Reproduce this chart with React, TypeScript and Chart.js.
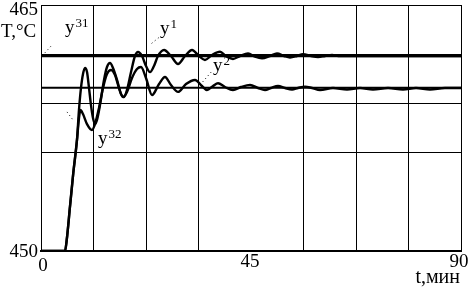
import { useEffect, useRef } from 'react';
import { Chart, registerables } from 'chart.js';

Chart.register(...registerables);

// axis ticks
const X_MIN = 0;
const X_MAX = 90;
const X_STEP = 11.25;
const X_LABELS = [0, 45, 90];
const Y_MIN = 450;
const Y_MAX = 465;
const Y_STEP = 3;
const Y_LABELS = [450, 465];

// setpoints
const SETPOINT_Y31 = 461.9;
const SETPOINT_Y32 = 459.95;

// output y1 (time, min / temperature, °C)
const T_Y1 = [0, 5.14, 5.51, 6.21, 6.92, 7.71, 8.14, 8.57, 9.0, 9.43, 9.86, 10.29, 10.71, 11.14, 11.57, 12.0, 12.64, 13.5, 14.14, 14.79, 15.43, 16.29, 17.14, 17.79, 18.43, 19.29, 20.14, 20.79, 21.64, 22.5, 23.36, 24.21, 25.07, 26.36, 27.86, 29.36, 30.86, 32.36, 33.86, 35.14, 36.64, 38.36, 39.64, 41.14, 42.64, 44.36, 45.86, 47.36, 49.07, 50.57, 52.07, 53.36, 54.86, 56.14, 57.86, 59.36, 60.86, 62.36, 64.07, 90];
const V_Y1 = [450, 450, 450.67, 452.7, 454.76, 456.77, 458.6, 459.94, 460.79, 461.16, 460.91, 459.94, 458.9, 458.11, 457.74, 457.99, 458.9, 460.43, 461.22, 461.46, 461.16, 460.43, 459.57, 459.39, 459.82, 460.91, 461.89, 462.13, 461.89, 461.28, 460.91, 461.28, 461.89, 462.26, 461.89, 461.4, 461.89, 462.26, 461.89, 461.65, 461.95, 462.15, 461.89, 461.71, 461.89, 462.05, 461.85, 461.75, 461.89, 462.04, 461.89, 461.8, 461.89, 462.0, 461.89, 461.83, 461.89, 461.95, 461.89, 461.89];

// output y2
const T_Y2 = [0, 5.14, 5.51, 6.21, 6.92, 7.71, 8.14, 8.46, 9.0, 9.86, 10.93, 11.57, 12.43, 13.29, 14.14, 15.0, 15.86, 16.71, 17.57, 18.43, 19.5, 20.57, 21.43, 22.5, 23.79, 25.29, 26.57, 27.86, 29.36, 31.07, 33.0, 34.5, 35.57, 36.86, 37.93, 39.43, 41.14, 42.86, 44.79, 46.5, 48.0, 49.29, 50.79, 52.29, 53.79, 55.07, 56.57, 58.07, 59.79, 62.57, 65.57, 68.36, 71.14, 74.36, 77.57, 80.36, 83.36, 86.57, 90];
const V_Y2 = [450, 450, 450.67, 452.7, 454.76, 456.77, 458.11, 458.6, 458.35, 457.74, 457.38, 457.74, 458.72, 459.94, 460.79, 461.04, 460.73, 459.94, 459.39, 459.7, 460.55, 461.1, 461.22, 460.55, 459.51, 460.18, 460.61, 460.12, 459.7, 460.18, 460.43, 460.06, 459.82, 460.06, 460.23, 460.0, 459.82, 460.0, 460.12, 459.94, 459.82, 459.94, 460.06, 459.94, 459.85, 459.94, 460.02, 459.94, 459.82, 459.94, 459.85, 459.94, 459.85, 459.94, 459.85, 459.94, 459.85, 459.94, 459.94];

// curve annotations (anchor in data units)
const ANNOTATIONS = [
  { base: 'y', sup: '31', t: 5.14, v: 463.29 },
  { base: 'y', sup: '1', t: 25.5, v: 463.23 },
  { base: 'y', sup: '2', t: 36.86, v: 460.98 },
  { base: 'y', sup: '32', t: 12.21, v: 456.52 },
];
// dotted leader lines: [t1, v1, t2, v2]
const LEADERS = [
  [0.22, 461.89, 2.36, 462.56],
  [23.71, 462.66, 25.5, 463.07],
  [34.07, 460.12, 36.86, 461.04],
  [5.57, 458.48, 6.86, 457.99],
];

const FONT = '"Liberation Serif", "Times New Roman", serif';

const textPlugin = {
  id: 'textPlugin',
  afterDraw(chart: any) {
    const { ctx } = chart;
    const xs = chart.scales.x;
    const ys = chart.scales.y;
    ctx.save();
    ctx.fillStyle = '#000';
    ctx.strokeStyle = '#000';

    // y tick labels
    ctx.font = `19px ${FONT}`;
    ctx.textAlign = 'right';
    ctx.textBaseline = 'alphabetic';
    Y_LABELS.forEach((v) => {
      const py = ys.getPixelForValue(v);
      ctx.fillText(String(v), xs.left - 3, py + (v === Y_MAX ? 10 : 6));
    });
    // y axis title
    ctx.textAlign = 'left';
    ctx.fillText('T,°C', 1, ys.top + 32);

    // x tick labels
    ctx.textAlign = 'center';
    X_LABELS.forEach((v) => {
      const px = xs.getPixelForValue(v);
      const dx = v === X_MIN ? 2 : v === X_MAX ? -2 : -1;
      const base = v === X_MIN ? ys.bottom + 20 : ys.bottom + 16;
      ctx.fillText(String(v), px + dx, base);
    });
    // x axis title
    ctx.font = `20px ${FONT}`;
    ctx.textAlign = 'right';
    ctx.fillText('t,мин', xs.right - 1, ys.bottom + 32);

    // annotations
    ANNOTATIONS.forEach((a) => {
      const px = xs.getPixelForValue(a.t);
      const py = ys.getPixelForValue(a.v);
      ctx.textAlign = 'left';
      ctx.font = `19px ${FONT}`;
      ctx.fillText(a.base, px, py);
      const w = ctx.measureText(a.base).width;
      ctx.font = `13px ${FONT}`;
      ctx.fillText(a.sup, px + w + 1, py - 6);
    });

    // leaders
    ctx.lineWidth = 1;
    ctx.setLineDash([1, 3]);
    LEADERS.forEach(([t1, v1, t2, v2]) => {
      ctx.beginPath();
      ctx.moveTo(xs.getPixelForValue(t1), ys.getPixelForValue(v1));
      ctx.lineTo(xs.getPixelForValue(t2), ys.getPixelForValue(v2));
      ctx.stroke();
    });
    ctx.restore();
  },
};

export default function App() {
  const ref = useRef<HTMLCanvasElement | null>(null);

  useEffect(() => {
    if (!ref.current) return;
    const toPts = (ts: number[], vs: number[]) => ts.map((t, i) => ({ x: t, y: vs[i] }));
    const chart = new Chart(ref.current, {
      type: 'line',
      data: {
        datasets: [
          {
            label: 'y31',
            data: [
              { x: X_MIN, y: SETPOINT_Y31 },
              { x: X_MAX, y: SETPOINT_Y31 },
            ],
            borderColor: '#000',
            borderWidth: 3,
            pointRadius: 0,
          },
          {
            label: 'y32',
            data: [
              { x: X_MIN, y: SETPOINT_Y32 },
              { x: X_MAX, y: SETPOINT_Y32 },
            ],
            borderColor: '#000',
            borderWidth: 2,
            pointRadius: 0,
          },
          {
            label: 'y1',
            data: toPts(T_Y1, V_Y1),
            borderColor: '#000',
            borderWidth: 2.4,
            pointRadius: 0,
            cubicInterpolationMode: 'monotone',
          },
          {
            label: 'y2',
            data: toPts(T_Y2, V_Y2),
            borderColor: '#000',
            borderWidth: 2.4,
            pointRadius: 0,
            cubicInterpolationMode: 'monotone',
          },
        ],
      },
      options: {
        animation: false,
        responsive: false,
        devicePixelRatio: 1,
        layout: { padding: { left: 0, top: 5, right: 12, bottom: 0 } },
        plugins: { legend: { display: false }, tooltip: { enabled: false } },
        scales: {
          x: {
            type: 'linear',
            min: X_MIN,
            max: X_MAX,
            ticks: { display: false, stepSize: X_STEP },
            grid: {
              drawTicks: false,
              color: (c: any) =>
                c.tick && Math.abs(c.tick.value - 45) < 1e-6 ? 'rgba(0,0,0,0)' : '#000',
              lineWidth: 1,
            },
            border: { display: true, color: '#000', width: 2 },
            afterFit: (s: any) => {
              s.height = 39;
            },
          },
          y: {
            type: 'linear',
            min: Y_MIN,
            max: Y_MAX,
            ticks: { display: false, stepSize: Y_STEP },
            grid: {
              drawTicks: false,
              color: (c: any) =>
                c.tick && Math.abs(c.tick.value - 453) < 1e-6 ? 'rgba(0,0,0,0)' : '#000',
              lineWidth: 1,
            },
            border: { display: true, color: '#000', width: 1 },
            afterFit: (s: any) => {
              s.width = 41;
            },
          },
        },
      },
      plugins: [textPlugin],
    });
    return () => chart.destroy();
  }, []);

  return (
    <div style={{ position: 'fixed', left: 0, top: 0, width: 473, height: 290, background: '#fff' }}>
      <canvas ref={ref} width={473} height={290} style={{ width: 473, height: 290 }} />
    </div>
  );
}
